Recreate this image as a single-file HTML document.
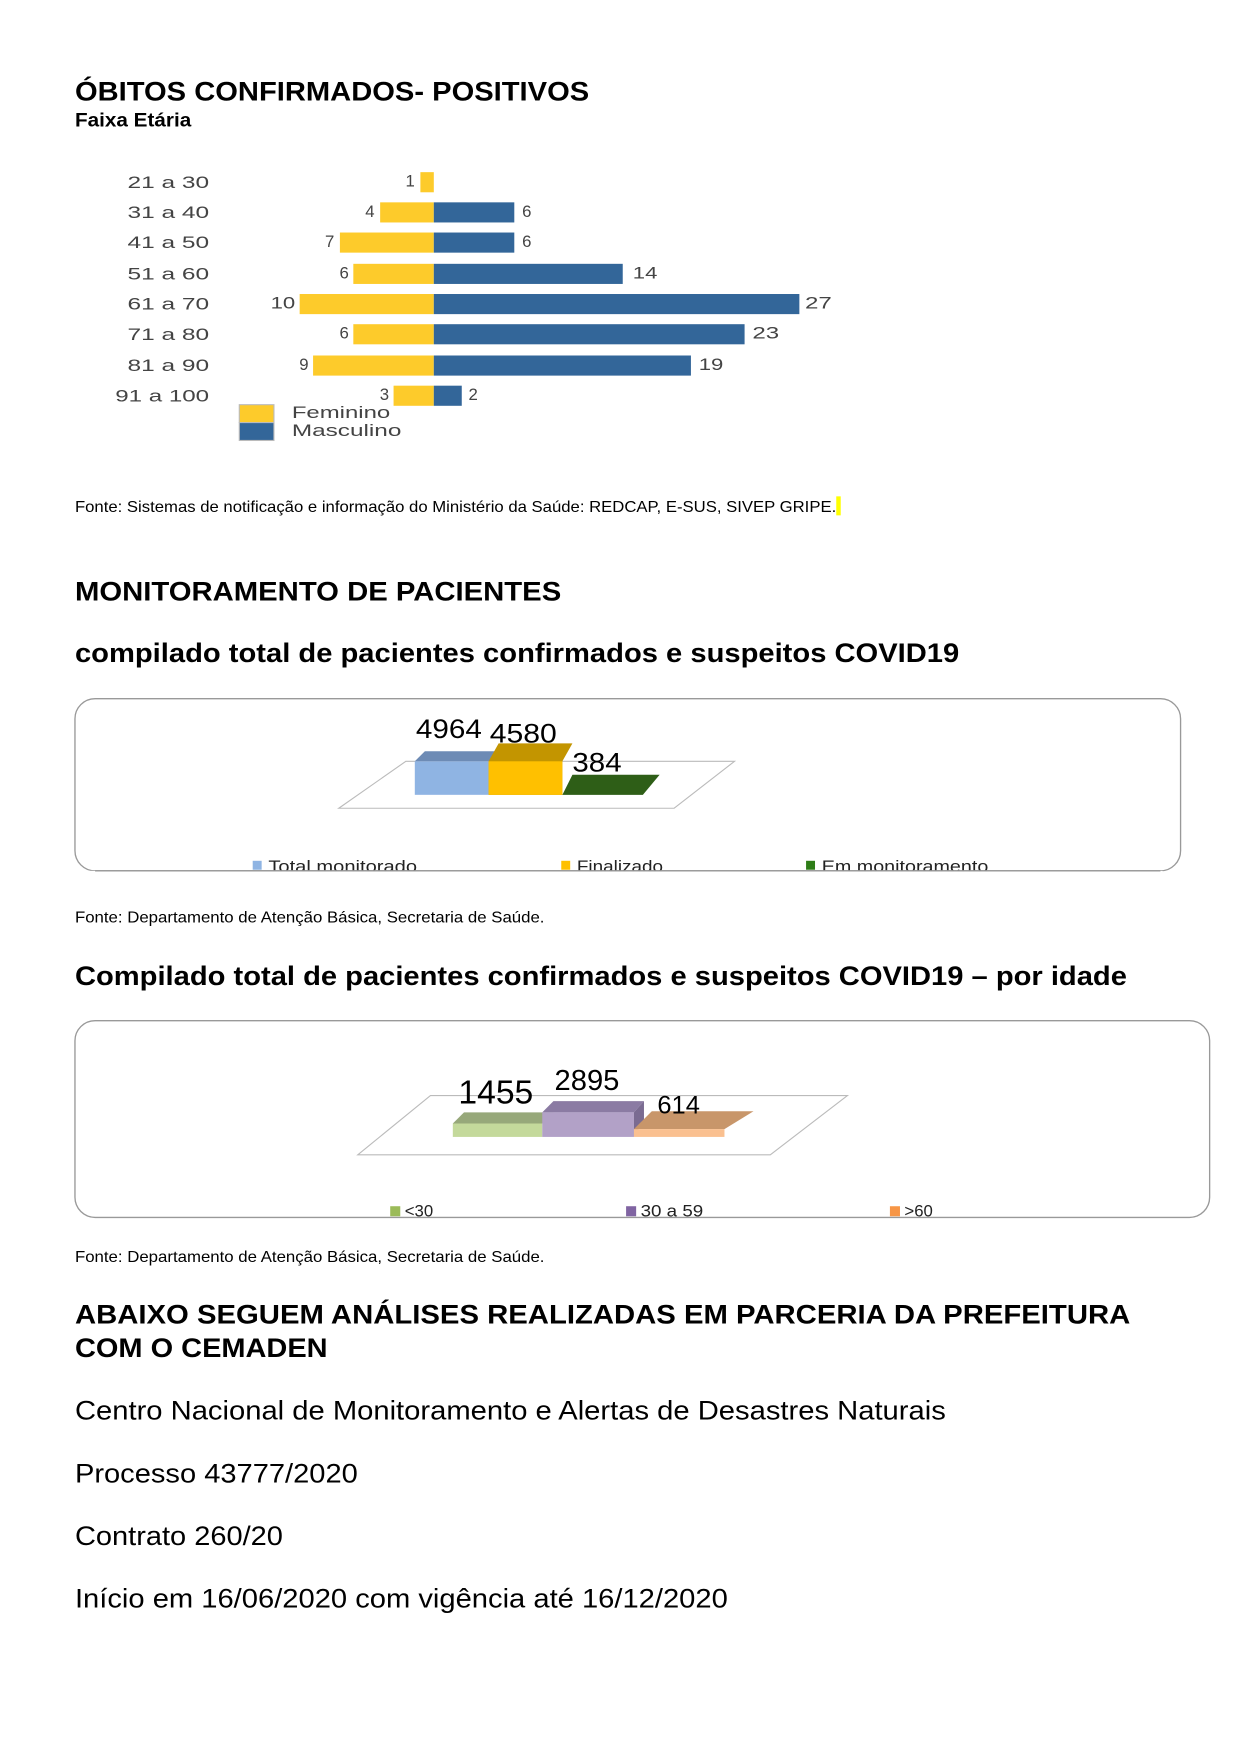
<!DOCTYPE html>
<html><head><meta charset="utf-8"><style>
html,body{margin:0;padding:0;background:#fff}
svg{display:block}
text{font-family:"Liberation Sans",sans-serif}
</style></head><body>
<svg width="1241" height="1754" viewBox="0 0 1110 1569" xmlns="http://www.w3.org/2000/svg">
<rect width="1110" height="1569" fill="#fff"/>
<text x="67" y="90" font-size="24" font-weight="bold" textLength="460" lengthAdjust="spacingAndGlyphs">ÓBITOS CONFIRMADOS- POSITIVOS</text>
<text x="67" y="113" font-size="17" font-weight="bold" textLength="104" lengthAdjust="spacingAndGlyphs">Faixa Etária</text>
<g font-size="15" fill="#444" lengthAdjust="spacingAndGlyphs">
<g text-anchor="end">
<text x="187" y="168" textLength="73" lengthAdjust="spacingAndGlyphs">21 a 30</text><text x="187" y="195" textLength="73" lengthAdjust="spacingAndGlyphs">31 a 40</text><text x="187" y="222" textLength="73" lengthAdjust="spacingAndGlyphs">41 a 50</text><text x="187" y="250" textLength="73" lengthAdjust="spacingAndGlyphs">51 a 60</text>
<text x="187" y="277" textLength="73" lengthAdjust="spacingAndGlyphs">61 a 70</text><text x="187" y="304" textLength="73" lengthAdjust="spacingAndGlyphs">71 a 80</text><text x="187" y="332" textLength="73" lengthAdjust="spacingAndGlyphs">81 a 90</text><text x="187" y="359" textLength="84" lengthAdjust="spacingAndGlyphs">91 a 100</text>
</g>
<rect x="376" y="154" width="12" height="18" fill="#fdcb2b"/>
<rect x="340" y="181" width="48" height="18" fill="#fdcb2b"/>
<rect x="304" y="208" width="84" height="18" fill="#fdcb2b"/>
<rect x="316" y="236" width="72" height="18" fill="#fdcb2b"/>
<rect x="268" y="263" width="120" height="18" fill="#fdcb2b"/>
<rect x="316" y="290" width="72" height="18" fill="#fdcb2b"/>
<rect x="280" y="318" width="108" height="18" fill="#fdcb2b"/>
<rect x="352" y="345" width="36" height="18" fill="#fdcb2b"/>
<rect x="388" y="181" width="72" height="18" fill="#336699"/>
<rect x="388" y="208" width="72" height="18" fill="#336699"/>
<rect x="388" y="236" width="169" height="18" fill="#336699"/>
<rect x="388" y="263" width="327" height="18" fill="#336699"/>
<rect x="388" y="290" width="278" height="18" fill="#336699"/>
<rect x="388" y="318" width="230" height="18" fill="#336699"/>
<rect x="388" y="345" width="25" height="18" fill="#336699"/>
<g text-anchor="end">
<text x="371" y="167">1</text><text x="335" y="194">4</text><text x="299" y="221">7</text><text x="312" y="249">6</text>
<text x="264" y="276" textLength="22" lengthAdjust="spacingAndGlyphs">10</text><text x="312" y="303">6</text><text x="276" y="331">9</text><text x="348" y="358">3</text>
</g>
<text x="467" y="194">6</text><text x="467" y="221">6</text><text x="566" y="249" textLength="22" lengthAdjust="spacingAndGlyphs">14</text><text x="720" y="276" textLength="24" lengthAdjust="spacingAndGlyphs">27</text>
<text x="673" y="303" textLength="24" lengthAdjust="spacingAndGlyphs">23</text><text x="625" y="331" textLength="22" lengthAdjust="spacingAndGlyphs">19</text><text x="419" y="358">2</text>
<rect x="214" y="362" width="31" height="16" fill="#fdcb2b" stroke="#bbb"/>
<rect x="214" y="378" width="31" height="16" fill="#336699" stroke="#bbb"/>
<text x="261" y="374" textLength="88" lengthAdjust="spacingAndGlyphs">Feminino</text><text x="261" y="390" textLength="98" lengthAdjust="spacingAndGlyphs">Masculino</text>
</g>
<rect x="748" y="444" width="4" height="17" fill="#ffff00"/>
<text x="67" y="458" font-size="14" textLength="681" lengthAdjust="spacingAndGlyphs">Fonte:  Sistemas de notificação e informação do Ministério da Saúde: REDCAP, E-SUS, SIVEP GRIPE.</text>

<text x="67" y="537" font-size="24" font-weight="bold" textLength="435" lengthAdjust="spacingAndGlyphs">MONITORAMENTO DE PACIENTES</text>
<text x="67" y="592" font-size="24" font-weight="bold" textLength="791" lengthAdjust="spacingAndGlyphs">compilado total de pacientes confirmados e suspeitos COVID19</text>

<rect x="67" y="625" width="989" height="154" rx="18" fill="#fff" stroke="#999" stroke-width="1.2"/>
<polygon points="303,723 363,681 657,681 603,723" fill="#fff" stroke="#bbb"/>
<polygon points="371,681 380,672 446,672 437,681" fill="#6d8bb5"/>
<rect x="371" y="681" width="66" height="30" fill="#8fb4e3"/>
<polygon points="437,681 446,665 512,665 503,681 503,711 437,711" fill="#c39500"/>
<rect x="437" y="681" width="66" height="30" fill="#ffc000"/>
<polygon points="503,711 512,693 590,693 575,711" fill="#2e5e17"/>
<g font-size="24">
<text x="372" y="660" textLength="59" lengthAdjust="spacingAndGlyphs">4964</text><text x="438" y="664" textLength="60" lengthAdjust="spacingAndGlyphs">4580</text><text x="512" y="690" textLength="44" lengthAdjust="spacingAndGlyphs">384</text>
</g>
<g font-size="15" fill="#222">
<rect x="226" y="770" width="8" height="8" fill="#8fb4e3"/><text x="240" y="780" textLength="133" lengthAdjust="spacingAndGlyphs">Total monitorado</text>
<rect x="502" y="770" width="8" height="8" fill="#ffc000"/><text x="516" y="780" textLength="77" lengthAdjust="spacingAndGlyphs">Finalizado</text>
<rect x="721" y="770" width="8" height="8" fill="#2e7d17"/><text x="735" y="780" textLength="149" lengthAdjust="spacingAndGlyphs">Em monitoramento</text>
</g>
<rect x="80" y="779" width="960" height="6" fill="#fff"/>
<line x1="85" y1="779" x2="1038" y2="779" stroke="#999" stroke-width="1.2"/>
<text x="67" y="825" font-size="14" textLength="420" lengthAdjust="spacingAndGlyphs">Fonte:  Departamento de Atenção Básica, Secretaria de Saúde.</text>

<text x="67" y="881" font-size="24" font-weight="bold" textLength="941" lengthAdjust="spacingAndGlyphs">Compilado total de pacientes confirmados e suspeitos COVID19 – por idade</text>

<rect x="67" y="913" width="1015" height="176" rx="18" fill="#fff" stroke="#999" stroke-width="1.2"/>
<polygon points="320,1033 385,980 758,980 689,1033" fill="#fff" stroke="#bbb"/>
<polygon points="405,1005 415,995 495,995 485,1005" fill="#97a87a"/>
<rect x="405" y="1005" width="80" height="12" fill="#c4d99b"/>
<polygon points="485,995 495,985 576,985 567,995" fill="#8b7ba3"/>
<rect x="485" y="995" width="82" height="22" fill="#b2a1c7"/>
<polygon points="567,1017 576,1002 576,985 567,995" fill="#7a6b91"/>
<polygon points="567,1010 583,994 674,994 648,1010" fill="#c8966a"/>
<rect x="567" y="1010" width="81" height="7" fill="#fac090"/>
<g>
<text x="410" y="987" font-size="30" textLength="67" lengthAdjust="spacingAndGlyphs">1455</text><text x="496" y="975" font-size="26" textLength="58" lengthAdjust="spacingAndGlyphs">2895</text><text x="588" y="996" font-size="22" textLength="38" lengthAdjust="spacingAndGlyphs">614</text>
</g>
<g font-size="15" fill="#222">
<rect x="349" y="1079" width="9" height="9" fill="#9bbb59"/><text x="362" y="1088">&lt;30</text>
<rect x="560" y="1079" width="9" height="9" fill="#8064a2"/><text x="573" y="1088" textLength="56" lengthAdjust="spacingAndGlyphs">30 a 59</text>
<rect x="796" y="1079" width="9" height="9" fill="#f79646"/><text x="809" y="1088">&gt;60</text>
</g>
<text x="67" y="1129" font-size="14" textLength="420" lengthAdjust="spacingAndGlyphs">Fonte:  Departamento de Atenção Básica, Secretaria de Saúde.</text>

<text x="67" y="1184" font-size="24" font-weight="bold" textLength="944" lengthAdjust="spacingAndGlyphs">ABAIXO SEGUEM ANÁLISES REALIZADAS EM PARCERIA DA PREFEITURA</text>
<text x="67" y="1214" font-size="24" font-weight="bold" textLength="226" lengthAdjust="spacingAndGlyphs">COM O CEMADEN</text>
<g font-size="24">
<text x="67" y="1270" textLength="779" lengthAdjust="spacingAndGlyphs">Centro Nacional de Monitoramento e Alertas de Desastres Naturais</text>
<text x="67" y="1326" textLength="253" lengthAdjust="spacingAndGlyphs">Processo 43777/2020</text>
<text x="67" y="1382" textLength="186" lengthAdjust="spacingAndGlyphs">Contrato 260/20</text>
<text x="67" y="1438" textLength="584" lengthAdjust="spacingAndGlyphs">Início em 16/06/2020 com vigência até 16/12/2020</text>
</g>
</svg>
</body></html>
